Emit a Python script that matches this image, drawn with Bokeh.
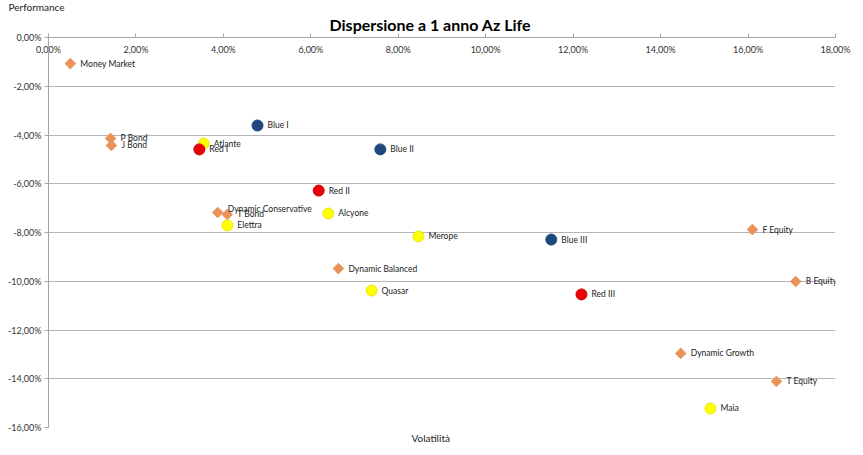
from bokeh.plotting import figure
from bokeh.models import ColumnDataSource, FixedTicker, CustomJSTickFormatter, Range1d, Title
from bokeh.core.properties import value
from bokeh.embed import file_html
from bokeh.resources import INLINE

# ---- data (percent) ----
names = ["Money Market", "P Bond", "J Bond", "Atlante", "Red I", "Blue I", "Blue II",
         "Red II", "Dynamic Conservative", "T Bond", "Elettra", "Alcyone", "Merope",
         "Dynamic Balanced", "Quasar", "Blue III", "Red III", "F Equity", "B Equity",
         "Dynamic Growth", "T Equity", "Maia"]
volatility = [0.50, 1.42, 1.44, 3.55, 3.45, 4.78, 7.59,
              6.18, 3.87, 4.09, 4.09, 6.40, 8.46,
              6.63, 7.39, 11.50, 12.19, 16.10, 17.09,
              14.46, 16.65, 15.14]
performance = [-1.07, -4.14, -4.43, -4.35, -4.59, -3.61, -4.59,
               -6.28, -7.18, -7.26, -7.71, -7.22, -8.16,
               -9.48, -10.38, -8.29, -10.54, -7.88, -10.01,
               -12.96, -14.11, -15.22]
groups = ["Orange", "Orange", "Orange", "Yellow", "Red", "Blue", "Blue",
          "Red", "Orange", "Orange", "Yellow", "Yellow", "Yellow",
          "Orange", "Yellow", "Blue", "Red", "Orange", "Orange",
          "Orange", "Orange", "Yellow"]

x_ticks = [0, 2, 4, 6, 8, 10, 12, 14, 16, 18]
y_ticks = [0, -2, -4, -6, -8, -10, -12, -14, -16]

title_text = "Dispersione a 1 anno Az Life"
x_title = "Volatilità"
y_title = "Performance"

# ---- styles ----
fill = {"Blue": "#1F497D", "Red": "#E8000B", "Yellow": "#FFFF00", "Orange": "#E9935A"}
edge = {"Blue": "#1F497D", "Red": "#D00000", "Yellow": "#E6E61A", "Orange": "#E9935A"}
label_dy = {"Dynamic Conservative": -4}
FONT = "Lato"

p = figure(frame_width=787, frame_height=390,
           x_range=Range1d(0, 18), y_range=Range1d(-16, 0),
           x_axis_location="above", title=None,
           output_backend="svg", toolbar_location=None,
           min_border_left=48, min_border_right=20, min_border_top=37, min_border_bottom=25,
           background_fill_color="white", border_fill_color="white")
p.outline_line_color = None

main_title = Title(text=title_text, align="left", offset=281, standoff=8,
                   text_font=FONT, text_font_size="16px", text_font_style="bold",
                   text_color="#000000")
perf_title = Title(text=y_title, align="left", offset=-40, standoff=-8,
                   text_font=FONT, text_font_size="10px", text_font_style="normal",
                   text_color="#222222")
vol_title = Title(text=x_title, align="left", offset=363, standoff=4,
                  text_font=FONT, text_font_size="10px", text_font_style="normal",
                  text_color="#222222")

fmt = CustomJSTickFormatter(code="return tick.toFixed(2).replace('.', ',') + '%';")

xa = p.xaxis[0]
xa.ticker = FixedTicker(ticks=x_ticks)
xa.formatter = fmt
xa.major_label_standoff = -21
xa.major_tick_out = 4
xa.major_tick_in = 0
xa.minor_tick_line_color = None
xa.axis_line_color = "#A6A6A6"
xa.major_tick_line_color = "#A6A6A6"
xa.major_label_text_font = FONT
xa.major_label_text_font_size = "9px"
xa.major_label_text_color = "#333333"

ya = p.yaxis[0]
ya.ticker = FixedTicker(ticks=y_ticks)
ya.formatter = fmt
ya.major_label_standoff = 3
ya.major_tick_out = 4
ya.major_tick_in = 0
ya.minor_tick_line_color = None
ya.axis_line_color = "#A6A6A6"
ya.major_tick_line_color = "#A6A6A6"
ya.major_label_text_font = FONT
ya.major_label_text_font_size = "9px"
ya.major_label_text_color = "#333333"

p.add_layout(main_title, "above")
p.add_layout(perf_title, "above")
p.add_layout(vol_title, "below")

p.xgrid.grid_line_color = None
p.ygrid.ticker = FixedTicker(ticks=y_ticks)
p.ygrid.grid_line_color = "#B5B5B5"
p.ygrid.grid_line_width = 1

src = ColumnDataSource(dict(
    x=volatility, y=performance, name=names,
    fill=[fill[g] for g in groups], edge=[edge[g] for g in groups],
    dy=[label_dy.get(n, 0) for n in names],
))

circ = [i for i, g in enumerate(groups) if g != "Orange"]
diam = [i for i, g in enumerate(groups) if g == "Orange"]

def sub(idx):
    d = {k: [v[i] for i in idx] for k, v in src.data.items()}
    return ColumnDataSource(d)

p.scatter("x", "y", source=sub(diam), marker="square", angle=0.785398, size=7.5,
          fill_color="fill", line_color="edge", line_width=1)
p.scatter("x", "y", source=sub(circ), marker="circle", size=11,
          fill_color="fill", line_color="edge", line_width=1)

p.text("x", "y", text="name", source=src, x_offset=10, y_offset="dy",
       text_font=value(FONT), text_font_size="8.5px", text_color="#222222",
       text_baseline="middle", text_align="left")

open("out.html", "w").write(file_html(p, INLINE))
